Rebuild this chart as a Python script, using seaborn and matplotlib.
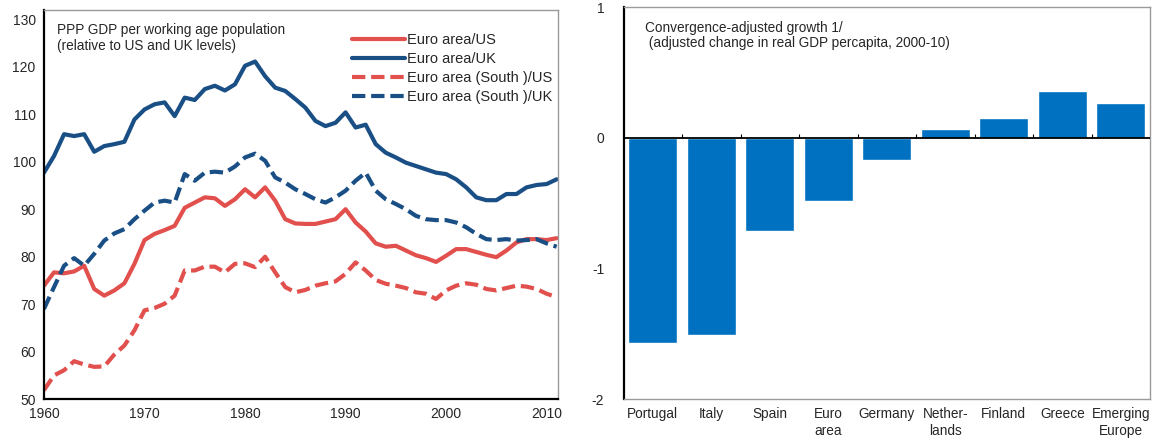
import numpy as np
import pandas as pd
import matplotlib
matplotlib.use("Agg")
import matplotlib.pyplot as plt
import seaborn as sns

# ---- data ----
years = list(range(1960, 2012))

ea_us = [73.9, 76.7, 76.5, 76.9, 78.1, 73.2, 71.8, 72.9, 74.4, 78.5,
         83.5, 84.8, 85.6, 86.5, 90.3, 91.4, 92.5, 92.3, 90.7, 92.1,
         94.2, 92.5, 94.6, 91.8, 87.9, 87.0, 86.9, 86.9, 87.4, 87.9,
         90.0, 87.2, 85.3, 82.8, 82.1, 82.3, 81.3, 80.3, 79.7, 78.9,
         80.2, 81.6, 81.6, 81.0, 80.4, 79.9, 81.3, 83.0, 83.7, 83.7,
         83.5, 83.9]

ea_uk = [97.7, 101.2, 105.8, 105.4, 105.8, 102.1, 103.3, 103.7, 104.2, 108.9,
         111.0, 112.1, 112.5, 109.6, 113.5, 113.0, 115.3, 116.0, 115.0, 116.3,
         120.2, 121.1, 118.0, 115.6, 114.9, 113.2, 111.4, 108.6, 107.5, 108.2,
         110.4, 107.2, 107.8, 103.7, 101.9, 100.9, 99.8, 99.1, 98.4, 97.7,
         97.4, 96.3, 94.6, 92.5, 91.9, 91.9, 93.2, 93.2, 94.6, 95.1,
         95.3, 96.3]

south_us = [51.9, 55.0, 56.1, 58.0, 57.3, 56.8, 56.9, 59.4, 61.3, 64.5,
            68.7, 69.2, 70.1, 71.8, 77.1, 77.1, 77.9, 77.9, 76.7, 78.5,
            78.6, 77.8, 80.0, 76.7, 73.6, 72.5, 73.0, 73.9, 74.4, 74.8,
            76.4, 78.8, 77.1, 75.1, 74.3, 73.9, 73.4, 72.5, 72.2, 71.1,
            72.9, 73.9, 74.4, 74.1, 73.2, 72.9, 73.4, 73.9, 73.7, 73.2,
            72.2, 71.5]

south_uk = [69.0, 73.6, 78.1, 79.7, 78.1, 80.6, 83.4, 84.9, 85.8, 87.9,
            89.7, 91.4, 91.8, 91.4, 97.4, 96.0, 97.7, 97.9, 97.7, 99.0,
            100.9, 101.7, 100.2, 96.7, 95.6, 94.2, 93.2, 92.1, 91.4, 92.5,
            93.9, 96.0, 97.7, 93.9, 92.1, 91.1, 90.0, 88.6, 87.9, 87.7,
            87.7, 87.2, 86.2, 84.8, 83.7, 83.5, 83.7, 83.4, 83.5, 83.7,
            82.8, 82.1]

series_names = ["Euro area/US", "Euro area/UK",
                "Euro area (South )/US", "Euro area (South )/UK"]

countries = ["Portugal", "Italy", "Spain", "Euro\narea", "Germany",
             "Nether-\nlands", "Finland", "Greece", "Emerging\nEurope"]
growth = [-1.57, -1.51, -0.71, -0.48, -0.17, 0.07, 0.15, 0.36, 0.27]

# ---- styling ----
RED = "#E2504E"
BLUE = "#1A4F86"
BAR = "#0070C0"

sns.set_style("white")
plt.rcParams["font.family"] = ["Liberation Sans", "DejaVu Sans"]
plt.rcParams["font.size"] = 9.5
plt.rcParams["axes.unicode_minus"] = False

fig = plt.figure(figsize=(11.57, 4.44), dpi=100)
ax1 = fig.add_axes([0.038, 0.101, 0.444, 0.877])
ax2 = fig.add_axes([0.539, 0.101, 0.455, 0.883])

# ---- left panel: lines ----
df = pd.DataFrame({
    "year": years * 4,
    "value": ea_us + ea_uk + south_us + south_uk,
    "series": sum([[n] * len(years) for n in series_names], []),
})
palette = {series_names[0]: RED, series_names[1]: BLUE,
           series_names[2]: RED, series_names[3]: BLUE}
dashes = {series_names[0]: "", series_names[1]: "",
          series_names[2]: (3.2, 1.4), series_names[3]: (3.2, 1.4)}
sns.lineplot(data=df, x="year", y="value", hue="series", style="series",
             hue_order=series_names, style_order=series_names,
             palette=palette, dashes=dashes, linewidth=3.0, ax=ax1)

ax1.set_xlim(1960, 2011.1)
ax1.set_ylim(50, 132)
ax1.set_xticks(range(1960, 2011, 10))
ax1.set_yticks(range(50, 131, 10))
ax1.set_xlabel("")
ax1.set_ylabel("")
ax1.tick_params(axis="both", labelsize=10, length=0, pad=6)
for side in ["left", "bottom"]:
    ax1.spines[side].set_color("black")
    ax1.spines[side].set_linewidth(1.6)
for side in ["top", "right"]:
    ax1.spines[side].set_color("#9a9a9a")
    ax1.spines[side].set_linewidth(1.0)

leg = ax1.legend(loc="upper right", bbox_to_anchor=(1.015, 0.975), frameon=False,
                 fontsize=10.5, handlelength=3.6, labelspacing=0.35,
                 handletextpad=0.15)
for line in leg.get_lines():
    line.set_linewidth(3.0)

ax1.text(0.025, 0.965,
         "PPP GDP per working age population\n(relative to US and UK levels)",
         transform=ax1.transAxes, ha="left", va="top", fontsize=9.8,
         linespacing=1.15)

# ---- right panel: bars ----
bars = pd.DataFrame({"country": countries, "growth": growth})
sns.barplot(data=bars, x="country", y="growth", color=BAR, saturation=1,
            width=0.84, ax=ax2)
ax2.set_xlim(-0.5, len(countries) - 0.5)
ax2.set_ylim(-2, 1)
ax2.set_yticks([-2, -1, 0, 1])
ax2.set_xlabel("")
ax2.set_ylabel("")
ax2.tick_params(axis="x", labelsize=9.8, length=0, pad=6)
ax2.tick_params(axis="y", labelsize=10, length=0, pad=14)
ax2.axhline(0, color="black", linewidth=1.3, zorder=3)
ax2.vlines(np.arange(len(countries) - 1) + 0.5, 0, 0.03, color="black",
           linewidth=0.8, zorder=3)
ax2.spines["left"].set_color("black")
ax2.spines["left"].set_linewidth(1.6)
for side in ["top", "right", "bottom"]:
    ax2.spines[side].set_color("#9a9a9a")
    ax2.spines[side].set_linewidth(1.0)

ax2.text(0.04, 0.965,
         "Convergence-adjusted growth 1/\n (adjusted change in real GDP percapita, 2000-10)",
         transform=ax2.transAxes, ha="left", va="top", fontsize=9.8,
         linespacing=1.15)

fig.savefig("out.png", dpi=100)
